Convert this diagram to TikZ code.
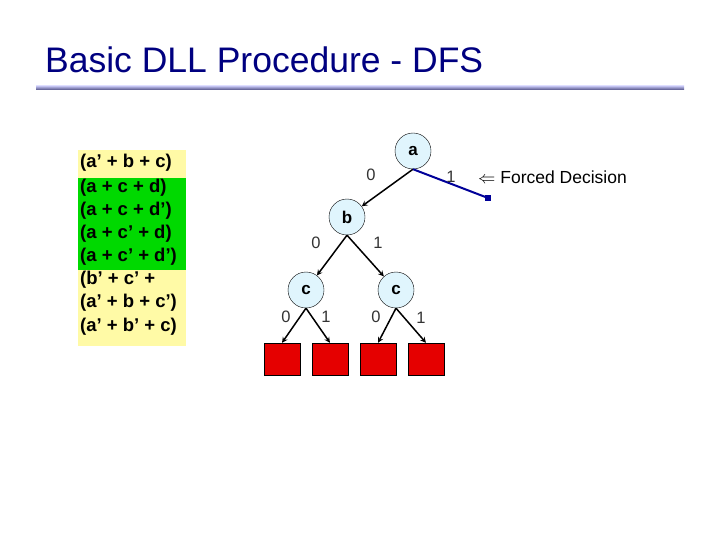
\documentclass[tikz,border=0pt]{standalone}
\usepackage{fontspec}
\setmainfont{Liberation Sans}
\begin{document}
\begin{tikzpicture}[x=1pt,y=-1pt,
  var/.style={circle,draw=black,fill=cyan!12,minimum size=36pt,inner sep=0pt,font=\bfseries\fontsize{17}{17}\selectfont},
  leaf/.style={draw=black,fill=red!90!black,minimum width=36pt,minimum height=32pt,inner sep=0pt},
  edge/.style={->,>=stealth,line width=1.5pt},
  lab/.style={font=\fontsize{16.5}{16.5}\selectfont,text=black!80},
  cl/.style={anchor=west,font=\bfseries\fontsize{18.5}{18.5}\selectfont,inner sep=0pt}]
\useasboundingbox (0,0) rectangle (720,540);
\node[anchor=base west,text=blue!50!black,font=\fontsize{35.5}{35.5}\selectfont,inner sep=0pt] (title) at (45,73) {Basic DLL Procedure - DFS};
\shade[top color=gray!40!blue!30,bottom color=blue!30!black!70] (36,86) rectangle (684,90);
\fill[yellow!35] (78,150) rectangle (186,178);
\fill[green!85!black] (78,178) rectangle (186,270);
\fill[yellow!35] (78,270) rectangle (186,346);
\node[cl] (c1) at (80,163) {(a’ + b + c)};
\node[cl] (c2) at (80,188) {(a + c + d)};
\node[cl] (c3) at (80,211) {(a + c + d’)};
\node[cl] (c4) at (80,234) {(a + c’ + d)};
\node[cl] (c5) at (80,257) {(a + c’ + d’)};
\node[cl] (c6) at (80,280) {(b’ + c’ +};
\node[cl] (c7) at (80,303) {(a’ + b + c’)};
\node[cl] (c8) at (80,327) {(a’ + b’ + c)};
\node[var] (a) at (413,151) {a};
\node[var] (b) at (347,217) {b};
\node[var] (cl) at (306,290) {c};
\node[var] (cr) at (396,290) {c};
\node[leaf] (l1) at (282,359) {};
\node[leaf] (l2) at (330,359) {};
\node[leaf] (l3) at (378,359) {};
\node[leaf] (l4) at (426,359) {};
\coordinate (f) at (488,198);
\draw[edge] (a.south) -- (b);
\draw[line width=2pt,blue!60!black] (a.south) -- (f);
\fill[blue!60!black] (f) ++(-3,-3) rectangle ++(6,6);
\draw[edge] (b.south) -- (cl);
\draw[edge] (b.south) -- (cr);
\draw[edge] (cl.south) -- (l1.north);
\draw[edge] (cl.south) -- (l2.north);
\draw[edge] (cr.south) -- (l3.north);
\draw[edge] (cr.south) -- (l4.north);
\node[lab] (la0) at (371,175) {0};
\node[lab] (la1) at (451,177) {1};
\node[lab] (lb0) at (316,243) {0};
\node[lab] (lb1) at (378,243) {1};
\node[lab] (lc0) at (286,317) {0};
\node[lab] (lc1) at (326,317) {1};
\node[lab] (ld0) at (376,317) {0};
\node[lab] (ld1) at (421,318) {1};
\node[anchor=west,font=\fontsize{17.5}{17.5}\selectfont,inner sep=0pt] (fd) at (478,177) {$\Leftarrow$ Forced Decision};
\end{tikzpicture}
\end{document}
